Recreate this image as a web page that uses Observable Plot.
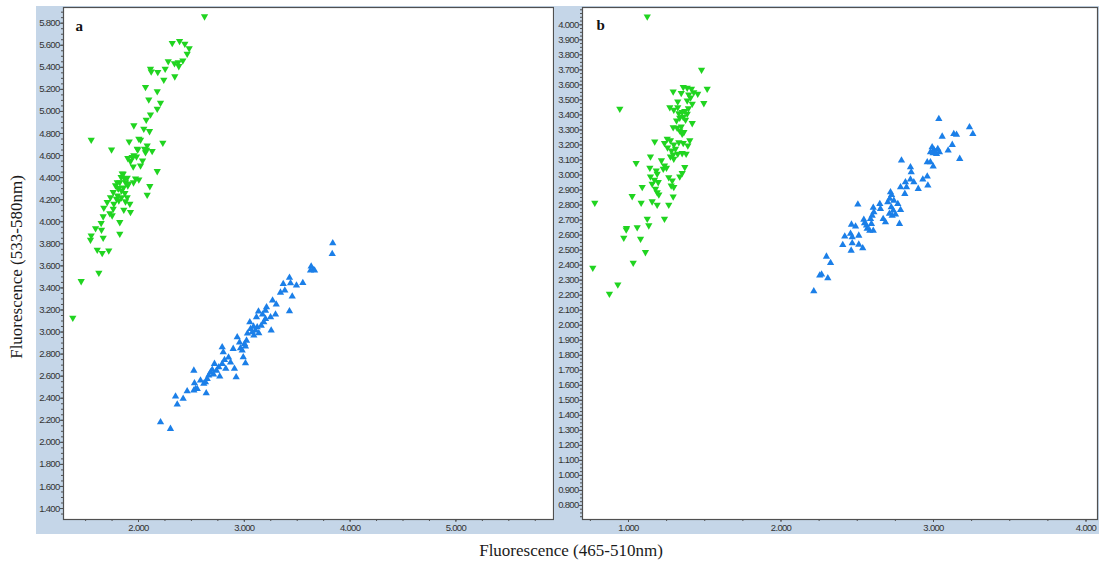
<!DOCTYPE html>
<html><head><meta charset="utf-8">
<script src="https://cdn.jsdelivr.net/npm/d3@7"></script>
<script src="https://cdn.jsdelivr.net/npm/@observablehq/plot@0.6"></script>
<style>
body{margin:0;background:#fff;}
#wrap{position:relative;width:1099px;height:564px;overflow:hidden;background:#fff;}
#pa{position:absolute;left:36px;top:6px;}
#pb{position:absolute;left:554px;top:6px;}
.ttl{position:absolute;font-family:"Liberation Serif","Times New Roman",serif;font-size:17px;color:#1a1a1a;white-space:nowrap;}
#ylab{left:17px;top:267px;transform:translate(-50%,-50%) rotate(-90deg);}
#xlab{left:571px;top:551px;transform:translate(-50%,-50%);}
</style></head>
<body><div id="wrap"><div id="pa"></div><div id="pb"></div>
<div id="ylab" class="ttl">Fluorescence (533-580nm)</div>
<div id="xlab" class="ttl">Fluorescence (465-510nm)</div></div>
<script>
// ---- data (x: 465-510nm, y: 533-580nm), thousands ----
const greenA = [[2.624,5.861],[2.319,5.619],[2.388,5.637],[2.438,5.613],[2.479,5.573],[2.460,5.523],[2.419,5.462],[2.375,5.446],[2.340,5.437],[2.381,5.410],[2.281,5.455],[2.252,5.387],[2.182,5.356],[2.113,5.387],[2.120,5.362],[2.239,5.287],[2.343,5.317],[2.066,5.220],[2.177,5.183],[2.097,5.108],[2.208,5.078],[2.177,5.024],[2.113,4.972],[2.073,4.924],[1.956,4.873],[2.050,4.843],[2.104,4.821],[2.003,4.752],[2.019,4.743],[2.230,4.716],[1.912,4.727],[1.553,4.743],[1.745,4.655],[2.082,4.691],[2.076,4.652],[1.993,4.655],[2.129,4.640],[2.066,4.630],[1.981,4.591],[1.899,4.576],[1.940,4.585],[1.924,4.549],[1.950,4.501],[2.177,4.458],[2.003,4.383],[1.893,4.398],[1.855,4.435],[1.836,4.404],[1.823,4.358],[1.877,4.358],[1.899,4.329],[1.804,4.308],[1.783,4.329],[2.107,4.322],[2.082,4.244],[1.761,4.268],[1.871,4.259],[1.735,4.222],[1.792,4.208],[1.814,4.193],[1.893,4.222],[1.704,4.177],[1.767,4.163],[1.918,4.163],[1.672,4.126],[1.761,4.117],[1.861,4.108],[1.924,4.087],[1.729,4.077],[1.751,4.057],[1.666,4.048],[1.823,3.996],[1.647,3.987],[1.594,3.941],[1.650,3.927],[1.553,3.875],[1.546,3.836],[1.666,3.854],[1.823,3.891],[1.610,3.746],[1.657,3.715],[1.719,3.739],[1.625,3.537],[1.458,3.461],[1.379,3.129],[1.846,4.437],[1.868,4.392],[1.905,4.346],[1.799,4.358],[1.811,4.301],[1.839,4.283],[1.858,4.310],[1.953,4.356],[1.972,4.392],[1.802,4.238],[1.839,4.220],[1.877,4.184],[1.956,4.601],[2.057,4.661],[1.988,4.661],[2.038,4.555],[2.019,4.510]];
const blueA = [[3.836,3.805],[3.831,3.709],[3.632,3.594],[3.651,3.564],[3.626,3.558],[3.664,3.558],[3.553,3.446],[3.427,3.492],[3.437,3.443],[3.368,3.437],[3.383,3.377],[3.453,3.322],[3.427,3.189],[3.210,3.225],[3.267,3.286],[3.302,3.250],[3.295,3.159],[3.248,3.135],[3.254,3.014],[3.115,3.135],[3.052,3.089],[3.200,3.120],[3.184,3.089],[3.160,3.059],[3.122,3.044],[3.106,3.014],[3.137,2.989],[3.090,2.969],[3.059,3.029],[3.075,2.999],[2.933,2.953],[3.021,2.923],[3.002,2.893],[3.011,2.869],[2.895,2.848],[2.964,2.854],[2.980,2.833],[2.990,2.772],[3.011,2.717],[2.791,2.863],[2.801,2.817],[2.813,2.748],[2.718,2.712],[2.759,2.681],[2.697,2.658],[2.681,2.636],[2.664,2.606],[2.649,2.576],[2.617,2.531],[2.633,2.545],[2.737,2.651],[2.791,2.712],[2.523,2.651],[2.907,2.667],[2.923,2.591],[2.825,2.667],[2.768,2.597],[2.529,2.536],[2.539,2.485],[2.555,2.485],[2.523,2.470],[2.460,2.464],[2.640,2.446],[2.350,2.416],[2.422,2.395],[2.366,2.343],[2.208,2.183],[2.302,2.123],[3.134,3.186],[3.172,3.159],[3.087,3.050],[3.030,2.987],[2.955,2.905],[2.851,2.769],[2.709,2.615],[2.586,2.561],[2.870,2.724],[3.200,3.195],[3.342,3.358],[3.493,3.422]];
const greenB = [[1.123,4.055],[1.479,3.700],[0.943,3.441],[0.779,2.815],[0.766,2.382],[1.031,2.415],[0.930,2.271],[0.875,2.209],[1.359,3.585],[1.385,3.581],[1.413,3.574],[1.293,3.556],[1.346,3.545],[1.395,3.536],[1.428,3.551],[1.454,3.541],[1.516,3.574],[1.494,3.478],[1.385,3.496],[1.418,3.474],[1.323,3.489],[1.271,3.451],[1.297,3.434],[1.323,3.451],[1.330,3.411],[1.352,3.418],[1.369,3.425],[1.385,3.407],[1.359,3.385],[1.336,3.381],[1.374,3.368],[1.418,3.345],[1.293,3.318],[1.319,3.314],[1.346,3.323],[1.336,3.296],[1.363,3.285],[1.352,3.274],[1.172,3.223],[1.254,3.241],[1.275,3.230],[1.236,3.212],[1.297,3.203],[1.330,3.218],[1.359,3.212],[1.402,3.230],[1.389,3.196],[1.308,3.174],[1.282,3.163],[1.293,3.136],[1.323,3.141],[1.352,3.145],[1.378,3.141],[1.275,3.123],[1.297,3.108],[1.144,3.123],[1.050,3.079],[1.216,3.097],[1.236,3.063],[1.228,3.041],[1.249,3.048],[1.369,3.052],[1.352,3.012],[1.336,2.990],[1.140,3.048],[1.182,3.030],[1.188,3.008],[1.144,2.990],[1.170,2.968],[1.195,2.952],[1.155,2.941],[1.264,2.985],[1.287,2.963],[1.280,2.930],[1.297,2.919],[1.090,2.919],[1.177,2.908],[1.188,2.885],[1.199,2.870],[1.024,2.859],[1.293,2.857],[1.083,2.815],[1.155,2.824],[1.188,2.802],[1.264,2.802],[1.123,2.708],[1.133,2.664],[1.236,2.708],[0.987,2.646],[1.057,2.652],[0.985,2.637],[0.969,2.582],[1.079,2.575],[1.111,2.486],[1.407,3.516],[1.315,3.363],[1.393,3.443],[1.256,3.183]];
const blueB = [[3.035,3.374],[3.236,3.318],[3.258,3.274],[3.133,3.274],[3.151,3.268],[3.057,3.256],[3.096,3.163],[3.123,3.201],[2.991,3.185],[3.002,3.168],[3.013,3.152],[3.028,3.174],[2.998,3.145],[3.020,3.141],[3.039,3.152],[2.980,3.152],[3.172,3.108],[2.790,3.097],[2.959,3.085],[2.980,3.085],[2.998,3.057],[2.849,3.052],[2.854,3.019],[2.959,2.990],[2.930,2.970],[2.963,2.930],[2.849,2.970],[2.871,2.952],[2.816,2.952],[2.823,2.919],[2.784,2.919],[2.900,2.908],[2.812,2.875],[2.718,2.885],[2.725,2.868],[2.713,2.842],[2.700,2.819],[2.740,2.830],[2.766,2.808],[2.784,2.768],[2.723,2.786],[2.736,2.764],[2.711,2.742],[2.729,2.730],[2.751,2.737],[2.648,2.808],[2.652,2.775],[2.605,2.782],[2.609,2.752],[2.598,2.730],[2.670,2.708],[2.685,2.686],[2.504,2.804],[2.543,2.702],[2.548,2.679],[2.587,2.708],[2.593,2.675],[2.605,2.630],[2.582,2.630],[2.565,2.642],[2.561,2.664],[2.777,2.675],[2.462,2.670],[2.489,2.657],[2.510,2.597],[2.456,2.609],[2.467,2.586],[2.418,2.591],[2.405,2.535],[2.467,2.546],[2.460,2.497],[2.510,2.537],[2.536,2.513],[2.298,2.457],[2.325,2.415],[2.254,2.331],[2.266,2.338],[2.307,2.313],[2.215,2.226]];

// ---- ticks ----
const xTicksA = [2, 3, 4, 5];
const xMinorA = d3.range(6, 24).map(d => d / 4);
const yTicksA = d3.range(14, 59, 2).map(d => d / 10);
const yMinorA = d3.range(27, 119).map(d => d / 20);
const xTicksB = [1, 2, 3, 4];
const xMinorB = d3.range(3, 17).map(d => d / 4);
const yTicksB = d3.range(8, 41).map(d => d / 10);
const yMinorB = d3.range(29, 165).map(d => d / 40);
const xDomainA = [1.291, 5.9225], yDomainA = [1.3005, 5.9423];
const xDomainB = [0.6984, 4.0754], yDomainB = [0.7064, 4.1152];

const GREEN = "#20d420", BLUE = "#1b7fe8", AXIS = "#505050";
const fmt = d3.format(".3f");

function panel(o) {
  return Plot.plot({
    width: o.width, height: 528,
    marginLeft: o.marginLeft, marginRight: o.marginRight, marginTop: 1, marginBottom: 15,
    style: {background: "#c5d6e8", fontFamily: "'Liberation Sans', Arial, sans-serif", fontSize: "9.5px", color: "#333"},
    x: {domain: o.xDomain, label: null},
    y: {domain: o.yDomain, label: null},
    marks: [
      Plot.frame({fill: "white", stroke: "none"}),
      Plot.dot(o.up, {x: d => d[0], y: d => d[1], symbol: "triangle", r: 2.7, fill: BLUE}),
      Plot.dot(o.down, {x: d => d[0], y: d => d[1], symbol: "triangle", rotate: 180, r: 2.7, fill: GREEN}),
      Plot.axisX(o.xMinor, {tickSize: 2, fill: "none", stroke: AXIS, label: null, tickFormat: () => ""}),
      Plot.axisX(o.xTicks, {tickSize: 3, tickPadding: 2, tickFormat: fmt, stroke: AXIS, label: null}),
      Plot.axisY(o.yMinor, {tickSize: 2, fill: "none", stroke: AXIS, label: null, tickFormat: () => ""}),
      Plot.axisY(o.yTicks, {tickSize: 3, tickPadding: 1, tickFormat: fmt, stroke: AXIS, label: null}),
      Plot.frame({stroke: AXIS, strokeWidth: 1.2}),
      Plot.text([o.letter], {text: d => d, frameAnchor: "top-left", textAnchor: "start", lineAnchor: "bottom", dx: o.dx, dy: o.dy, fontFamily: "'Liberation Serif', serif", fontWeight: "bold", fontSize: 15, fill: "#111"})
    ]
  });
}

document.getElementById("pa").append(panel({
  width: 518, marginLeft: 27, marginRight: 1,
  xDomain: xDomainA, yDomain: yDomainA,
  xTicks: xTicksA, xMinor: xMinorA, yTicks: yTicksA, yMinor: yMinorA,
  up: blueA, down: greenA, letter: "a", dx: 12, dy: 23
}));
document.getElementById("pb").append(panel({
  width: 545, marginLeft: 28, marginRight: 2,
  xDomain: xDomainB, yDomain: yDomainB,
  xTicks: xTicksB, xMinor: xMinorB, yTicks: yTicksB, yMinor: yMinorB,
  up: blueB, down: greenB, letter: "b", dx: 14, dy: 22
}));
document.querySelectorAll("svg g[aria-label$='tick label'] text").forEach(t => { t.style.letterSpacing = "-0.7px"; });
</script>
</body></html>
